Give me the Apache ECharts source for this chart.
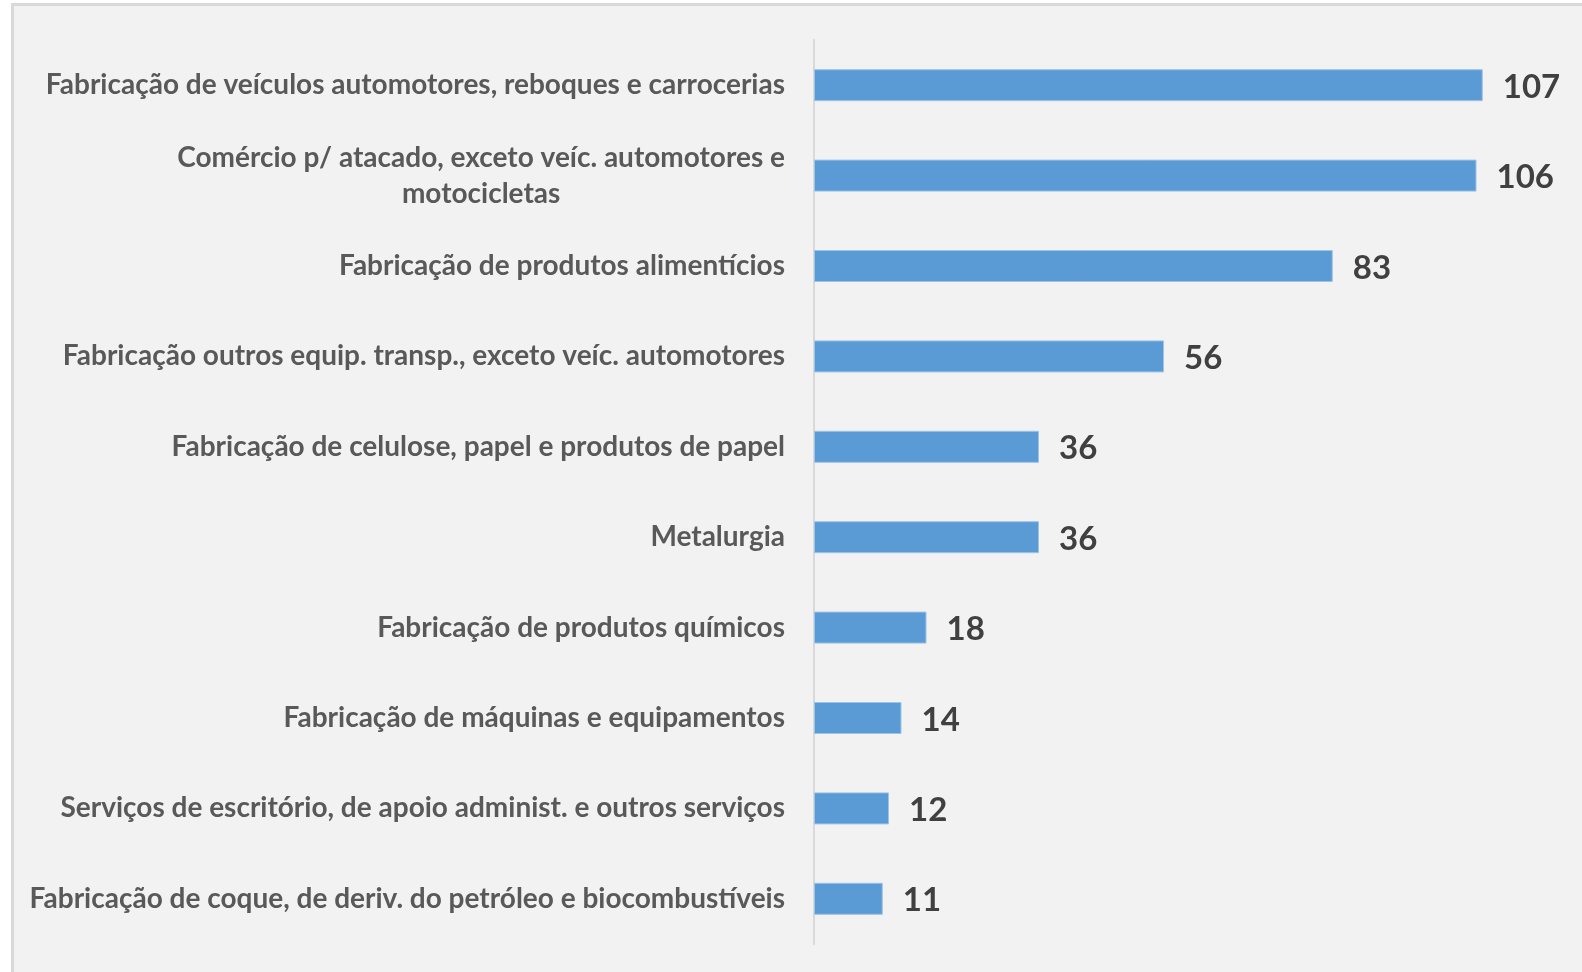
<!DOCTYPE html>
<html>
<head>
<meta charset="utf-8">
<title>Setores</title>
<script src="https://cdn.jsdelivr.net/npm/echarts@6/dist/echarts.min.js"></script>
<style>
    html, body { margin: 0; padding: 0; background: #ffffff; }
    /* painel cinza com borda à esquerda e em cima */
    #panel {
        position: absolute;
        left: 11px; top: 3px; right: 0; bottom: 0;
        background: #f2f2f2;
        border-left: 3px solid #d9d9d9;
        border-top: 3px solid #d9d9d9;
    }
    #chart { position: absolute; left: 0; top: 0; width: 1582px; height: 972px; }
</style>
</head>
<body>
<div id="panel"></div>
<div id="chart"></div>
<script>
// categorias (de cima para baixo)
const categories = [
    'Fabricação de veículos automotores, reboques e carrocerias',
    'Comércio p/ atacado, exceto veíc. automotores e\nmotocicletas',
    'Fabricação de produtos alimentícios',
    'Fabricação outros equip. transp., exceto veíc. automotores',
    'Fabricação de celulose, papel e produtos de papel',
    'Metalurgia',
    'Fabricação de produtos químicos',
    'Fabricação de máquinas e equipamentos',
    'Serviços de escritório, de apoio administ. e outros serviços',
    'Fabricação de coque, de deriv. do petróleo e biocombustíveis'
];
// valores de cada barra
const values = [107, 106, 83, 56, 36, 36, 18, 14, 12, 11];

const FONT = 'Lato, "Open Sans", sans-serif';

const myChart = echarts.init(document.getElementById('chart'));

const options = {
    backgroundColor: 'transparent',
    animation: false,
    grid: {
        left: 814,
        right: 18,
        top: 40,
        bottom: 28,
        containLabel: false
    },
    xAxis: {
        type: 'value',
        show: false,
        min: 0,
        max: 120,
        splitLine: { show: false }
    },
    yAxis: {
        type: 'category',
        inverse: true, // primeira categoria em cima
        data: categories,
        axisLine: { show: true, lineStyle: { color: '#d9d9d9', width: 2 } },
        axisTick: { show: false },
        axisLabel: {
            margin: 29,
            color: '#595959',
            fontFamily: FONT,
            fontWeight: 'bold',
            fontSize: 28,
            lineHeight: 36,
            // rótulo em duas linhas: cada linha centralizada
            formatter: (v) => v.indexOf('\n') < 0 ? v : v.split('\n').map((s) => '{c|' + s + '}').join('\n'),
            rich: {
                c: {
                    align: 'center',
                    color: '#595959',
                    fontFamily: FONT,
                    fontWeight: 'bold',
                    fontSize: 28,
                    lineHeight: 36
                }
            }
        }
    },
    series: [
        {
            type: 'bar',
            data: values,
            barWidth: 32,
            itemStyle: {
                color: '#5b9bd5',
                borderColor: '#9dc3e6',
                borderWidth: 1
            },
            label: {
                show: true,
                position: 'right',
                distance: 20,
                offset: [0, 2],
                color: '#404040',
                fontFamily: FONT,
                fontWeight: 'bold',
                fontSize: 33
            }
        }
    ]
};

myChart.setOption(options);
</script>
</body>
</html>
